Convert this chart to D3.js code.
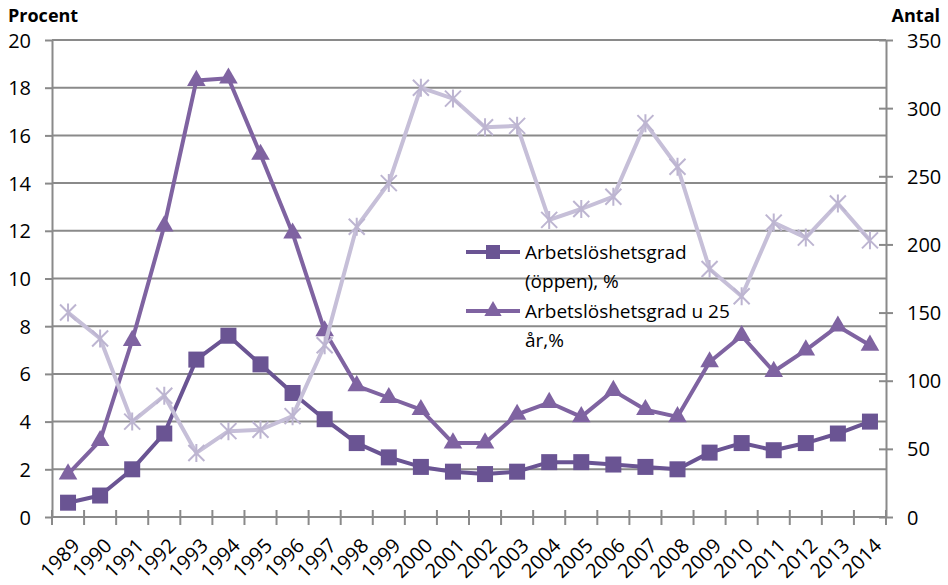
<!DOCTYPE html>
<html>
<head>
<meta charset="utf-8">
<script src="https://cdn.jsdelivr.net/npm/d3@7"></script>
<style>
  body { margin: 0; background: #fff; }
  text { font-family: "Open Sans", sans-serif; fill: #000; }
</style>
</head>
<body>
<svg id="chart" width="948" height="585"></svg>
<script>
// years on the x axis
const years = ["1989","1990","1991","1992","1993","1994","1995","1996","1997","1998","1999","2000","2001",
  "2002","2003","2004","2005","2006","2007","2008","2009","2010","2011","2012","2013","2014"];

// Arbetslöshetsgrad (öppen), % (left axis)
const openRate = [0.6, 0.9, 2.0, 3.5, 6.6, 7.6, 6.4, 5.2, 4.1, 3.1, 2.5, 2.1, 1.9,
  1.8, 1.9, 2.3, 2.3, 2.2, 2.1, 2.0, 2.7, 3.1, 2.8, 3.1, 3.5, 4.0];

// Arbetslöshetsgrad u 25 år, % (left axis)
const youthRate = [1.8, 3.2, 7.4, 12.2, 18.3, 18.4, 15.2, 11.9, 7.8, 5.5, 5.0, 4.5, 3.1,
  3.1, 4.3, 4.8, 4.2, 5.3, 4.5, 4.2, 6.5, 7.6, 6.1, 7.0, 8.0, 7.2];

// Antal (right axis), no legend entry
const countVals = [150, 131, 70, 89, 47, 63, 64, 74, 126, 213, 245, 315, 307,
  286, 287, 218, 226, 235, 289, 257, 182, 162, 216, 205, 230, 203];

const leftTicks = [0, 2, 4, 6, 8, 10, 12, 14, 16, 18, 20];
const rightTicks = [0, 50, 100, 150, 200, 250, 300, 350];

const margin = {top: 40, right: 62, bottom: 68, left: 52};
const width = 948 - margin.left - margin.right;
const height = 585 - margin.top - margin.bottom;

const svg = d3.select("#chart");
const g = svg.append("g").attr("transform", `translate(${margin.left},${margin.top})`);

const x = d3.scaleBand().domain(years).range([0, width]);
const yL = d3.scaleLinear().domain([0, 20]).range([height, 0]);
const yR = d3.scaleLinear().domain([0, 350]).range([height, 0]);

const gridCol = "#8a8a8a";

// gridlines
g.selectAll(".grid").data(leftTicks.slice(1)).enter().append("line")
  .attr("x1", 0).attr("x2", width)
  .attr("y1", d => yL(d)).attr("y2", d => yL(d))
  .attr("stroke", gridCol).attr("stroke-width", 2);

// left axis
const axL = g.append("g").call(d3.axisLeft(yL).tickValues(leftTicks).tickSize(7).tickSizeOuter(0).tickPadding(14));
axL.select(".domain").attr("stroke", gridCol).attr("stroke-width", 2);
axL.selectAll(".tick line").attr("stroke", gridCol).attr("stroke-width", 2);
axL.selectAll(".tick text").attr("font-size", 20).attr("dy", "0.35em")
  .style("font-family", "'Open Sans', sans-serif");

// right axis
const axR = g.append("g").attr("transform", `translate(${width},0)`)
  .call(d3.axisRight(yR).tickValues(rightTicks).tickSize(7).tickSizeOuter(0).tickPadding(14));
axR.select(".domain").attr("stroke", gridCol).attr("stroke-width", 2);
axR.selectAll(".tick line").attr("stroke", gridCol).attr("stroke-width", 2).attr("x1", -7);
axR.selectAll(".tick text").attr("font-size", 20).attr("dy", "0.35em")
  .style("font-family", "'Open Sans', sans-serif");

// bottom axis with ticks at category boundaries
const axB = g.append("g").attr("transform", `translate(0,${height})`);
axB.append("line").attr("x1", 0).attr("x2", width).attr("stroke", gridCol).attr("stroke-width", 2);
const bounds = years.map(d => x(d)).concat([width]);
axB.selectAll(".xt").data(bounds).enter().append("line")
  .attr("x1", d => d).attr("x2", d => d).attr("y1", -7).attr("y2", 8)
  .attr("stroke", gridCol).attr("stroke-width", 2);
axB.selectAll(".xl").data(years).enter().append("text")
  .attr("transform", d => `translate(${x(d) + x.bandwidth() / 2 + 13},${30}) rotate(-45)`)
  .attr("text-anchor", "end").attr("font-size", 20)
  .text(d => d);

// axis titles
svg.append("text").attr("x", 8).attr("y", 22).attr("font-size", 18).attr("font-weight", "bold").text("Procent");
svg.append("text").attr("x", 940).attr("y", 22).attr("text-anchor", "end").attr("font-size", 18).attr("font-weight", "bold").text("Antal");

const cx = (d, i) => x(years[i]) + x.bandwidth() / 2;

const sqCol = "#6a5493";
const triCol = "#7f63a1";
const starCol = "#c6bfd8";

function drawLine(vals, yScale, color) {
  g.append("path").datum(vals)
    .attr("fill", "none").attr("stroke", color).attr("stroke-width", 4)
    .attr("stroke-linejoin", "round")
    .attr("d", d3.line().x(cx).y(d => yScale(d)));
}

// squares series
drawLine(openRate, yL, sqCol);
g.selectAll(".sq").data(openRate).enter().append("rect")
  .attr("x", (d, i) => cx(d, i) - 8).attr("y", d => yL(d) - 8)
  .attr("width", 16).attr("height", 16).attr("fill", sqCol);

// triangles series
const tri = d3.symbol().type(d3.symbolTriangle).size(150);
drawLine(youthRate, yL, triCol);
g.selectAll(".tri").data(youthRate).enter().append("path")
  .attr("d", tri)
  .attr("transform", (d, i) => `translate(${cx(d, i)},${yL(d)})`)
  .attr("fill", triCol);

// stars series (right axis)
drawLine(countVals, yR, starCol);
const starPath = "M-8,-8L8,8M-8,8L8,-8M0,-9L0,9";
g.selectAll(".st").data(countVals).enter().append("path")
  .attr("d", starPath)
  .attr("transform", (d, i) => `translate(${cx(d, i)},${yR(d)})`)
  .attr("stroke", "#bdb5d1").attr("stroke-width", 2).attr("fill", "none");

// legend
const legend = svg.append("g").attr("transform", "translate(466,252)");
const legItems = [
  {lines: ["Arbetslöshetsgrad", "(öppen), %"], color: sqCol, shape: "sq", y: 0},
  {lines: ["Arbetslöshetsgrad u 25", "år,%"], color: triCol, shape: "tri", y: 59}
];
legItems.forEach(it => {
  const lg = legend.append("g").attr("transform", `translate(0,${it.y})`);
  lg.append("line").attr("x1", 0).attr("x2", 54).attr("stroke", it.color).attr("stroke-width", 4);
  if (it.shape === "sq") {
    lg.append("rect").attr("x", 20).attr("y", -7).attr("width", 14).attr("height", 14).attr("fill", it.color);
  } else {
    lg.append("path").attr("d", d3.symbol().type(d3.symbolTriangle).size(130)).attr("transform", "translate(27,0)").attr("fill", it.color);
  }
  it.lines.forEach((t, k) => {
    lg.append("text").attr("x", 59).attr("y", k * 29).attr("dy", "0.35em").attr("font-size", 19).text(t);
  });
});
</script>
</body>
</html>
